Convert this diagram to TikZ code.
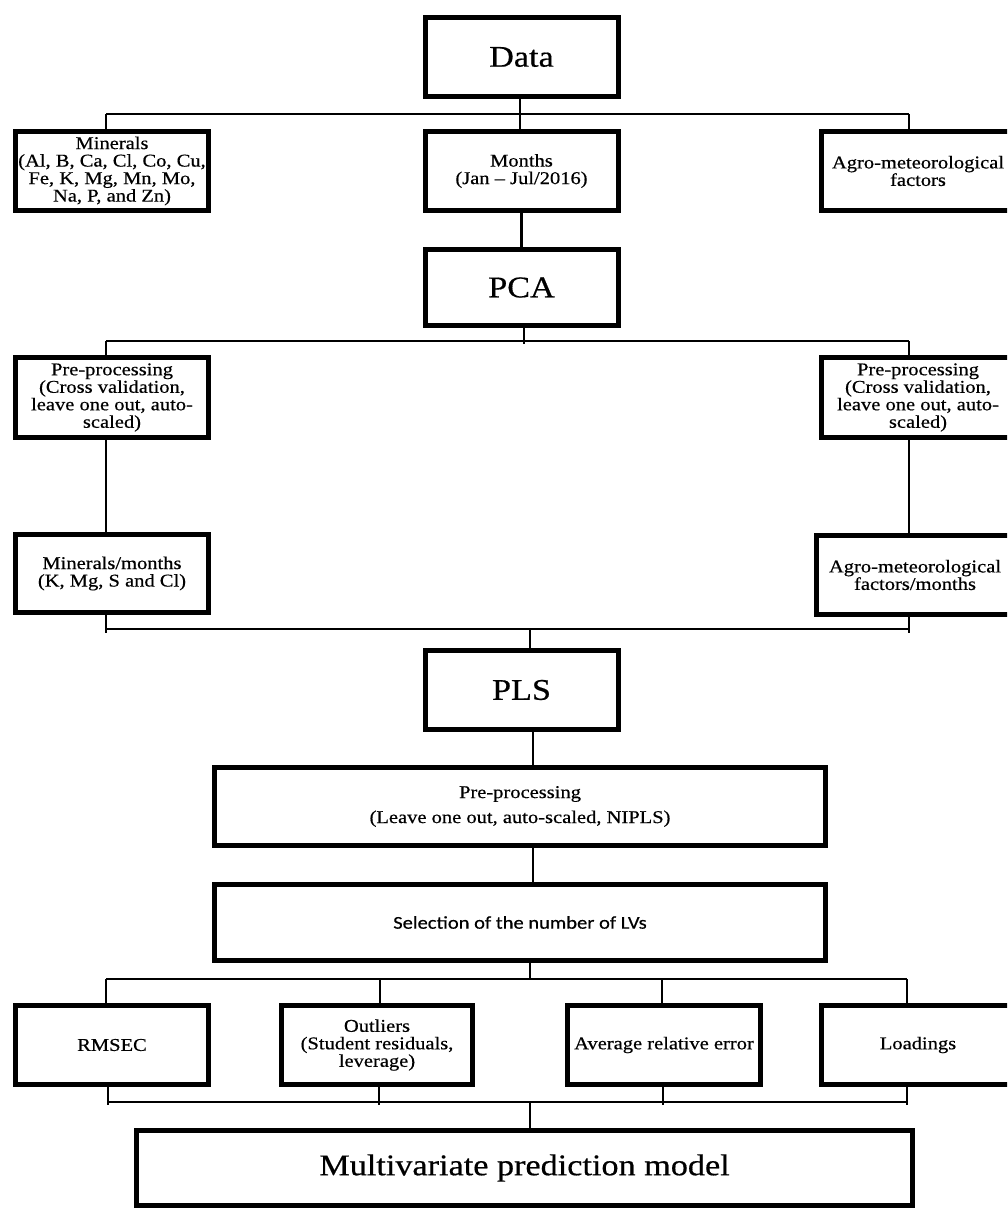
\documentclass[tikz,border=0pt]{standalone}
\usepackage{fontspec}
\setmainfont{Liberation Serif}[FakeStretch=1.14,FakeBold=0.5]
\newfontfamily\calib{Carlito}[FakeStretch=1.14,FakeBold=0.5]
\begin{document}
\begin{tikzpicture}[x=1pt,y=-1pt,
  box/.style={draw, line width=5pt, inner sep=1pt, align=center,
    minimum width=193pt, minimum height=79pt,
    font=\fontsize{18}{17.5}\selectfont},
  bigbox/.style={box, font=\fontsize{30}{34}\selectfont},
  bus/.style={line width=1.5pt},
  stem/.style={line width=2.5pt}]
\clip (0,0) rectangle (1007,1209);
\useasboundingbox (0,0) rectangle (1007,1209);
\fill[white] (0,0) rectangle (1007,1209);
% boxes
\node[bigbox] (data) at (521.5,57) {Data};
\node[box] (min) at (112,171) {Minerals\\(Al, B, Ca, Cl, Co, Cu,\\Fe, K, Mg, Mn, Mo,\\Na, P, and Zn)};
\node[box] (mon) at (521.5,171) {Months\\(Jan -- Jul/2016)};
\node[box] (agro) at (918,171) {Agro-meteorological\\factors};
\node[bigbox, minimum height=76pt] (pca) at (521.5,287.5) {PCA};
\node[box, minimum height=80pt] (preL) at (112,397.5) {Pre-processing\\(Cross validation,\\leave one out, auto-\\scaled)};
\node[box, minimum height=80pt] (preR) at (918,397.5) {Pre-processing\\(Cross validation,\\leave one out, auto-\\scaled)};
\node[box, minimum height=78pt] (minm) at (112,573.5) {Minerals/months\\(K, Mg, S and Cl)};
\node[box, minimum height=79pt, minimum width=197pt] (agrom) at (915,575) {Agro-meteorological\\factors/months};
\node[bigbox] (pls) at (521.5,690) {PLS};
\node[box, minimum width=611pt, minimum height=78pt, font=\fontsize{18}{25}\selectfont] (prep) at (520,806.5) {Pre-processing\\(Leave one out, auto-scaled, NIPLS)};
\node[box, minimum width=611pt, minimum height=76pt, font=\calib\fontsize{18}{20}\selectfont] (sel) at (520,922.5) {Selection of the number of LVs};
\node[box] (rmsec) at (112,1045) {RMSEC};
\node[box, minimum width=191pt] (outl) at (377,1045) {Outliers\\(Student residuals,\\leverage)};
\node[box] (avg) at (664,1045) {Average relative error};
\node[box] (load) at (918,1045) {Loadings};
\node[bigbox, minimum width=776pt, minimum height=75pt] (multi) at (524.5,1168) {Multivariate prediction model};
% bus 1
\coordinate (b1L) at (106,114);
\coordinate (b1M) at (520,114);
\coordinate (b1R) at (909,114);
\draw[bus] (b1L) -- (b1R);
\draw[bus] (data.south -| b1M) -- (b1M);
\draw[bus] (b1L) -- (b1L |- min.north);
\draw[bus] (b1M) -- (b1M |- mon.north);
\draw[bus] (b1R) -- (b1R |- agro.north);
\draw[stem] (mon.south) -- (pca.north);
% bus 2
\coordinate (b2L) at (106,341);
\coordinate (b2M) at (524,341);
\coordinate (b2R) at (909,341);
\coordinate (b2Mt) at (524,344);
\draw[bus] (b2L) -- (b2R);
\draw[bus] (pca.south -| b2M) -- (b2Mt);
\draw[bus] (b2L) -- (b2L |- preL.north);
\draw[bus] (b2R) -- (b2R |- preR.north);
\draw[bus] (preL.south -| b2L) -- (minm.north -| b2L);
\draw[bus] (preR.south -| b2R) -- (agrom.north -| b2R);
% bus 3
\coordinate (b3L) at (106,629);
\coordinate (b3M) at (530,629);
\coordinate (b3R) at (909,629);
\coordinate (b3Lt) at (106,633);
\coordinate (b3Rt) at (909,633);
\draw[bus] (b3L) -- (b3R);
\draw[bus] (minm.south -| b3L) -- (b3Lt);
\draw[bus] (agrom.south -| b3R) -- (b3Rt);
\draw[bus] (b3M) -- (pls.north -| b3M);
\coordinate (s1) at (533,0);
\draw[stem] (pls.south -| s1) -- (prep.north -| s1);
\draw[stem] (prep.south -| s1) -- (sel.north -| s1);
% bus 4
\coordinate (b4A) at (106,979);
\coordinate (b4B) at (380,979);
\coordinate (b4M) at (530,979);
\coordinate (b4C) at (662,979);
\coordinate (b4D) at (907,979);
\draw[bus] (b4A) -- (b4D);
\draw[bus] (sel.south -| b4M) -- (b4M);
\draw[bus] (b4A) -- (b4A |- rmsec.north);
\draw[bus] (b4B) -- (b4B |- outl.north);
\draw[bus] (b4C) -- (b4C |- avg.north);
\draw[bus] (b4D) -- (b4D |- load.north);
% bus 5
\coordinate (b5A) at (108,1102);
\coordinate (b5B) at (379,1102);
\coordinate (b5M) at (530,1102);
\coordinate (b5C) at (663,1102);
\coordinate (b5D) at (907,1102);
\draw[bus] (b5A) -- (b5D);
\draw[bus] (rmsec.south -| b5A) -- ([yshift=-3pt]b5A);
\draw[bus] (outl.south -| b5B) -- ([yshift=-3pt]b5B);
\draw[bus] (avg.south -| b5C) -- ([yshift=-3pt]b5C);
\draw[bus] (load.south -| b5D) -- ([yshift=-3pt]b5D);
\draw[stem] (b5M) -- (multi.north -| b5M);
\end{tikzpicture}
\end{document}
